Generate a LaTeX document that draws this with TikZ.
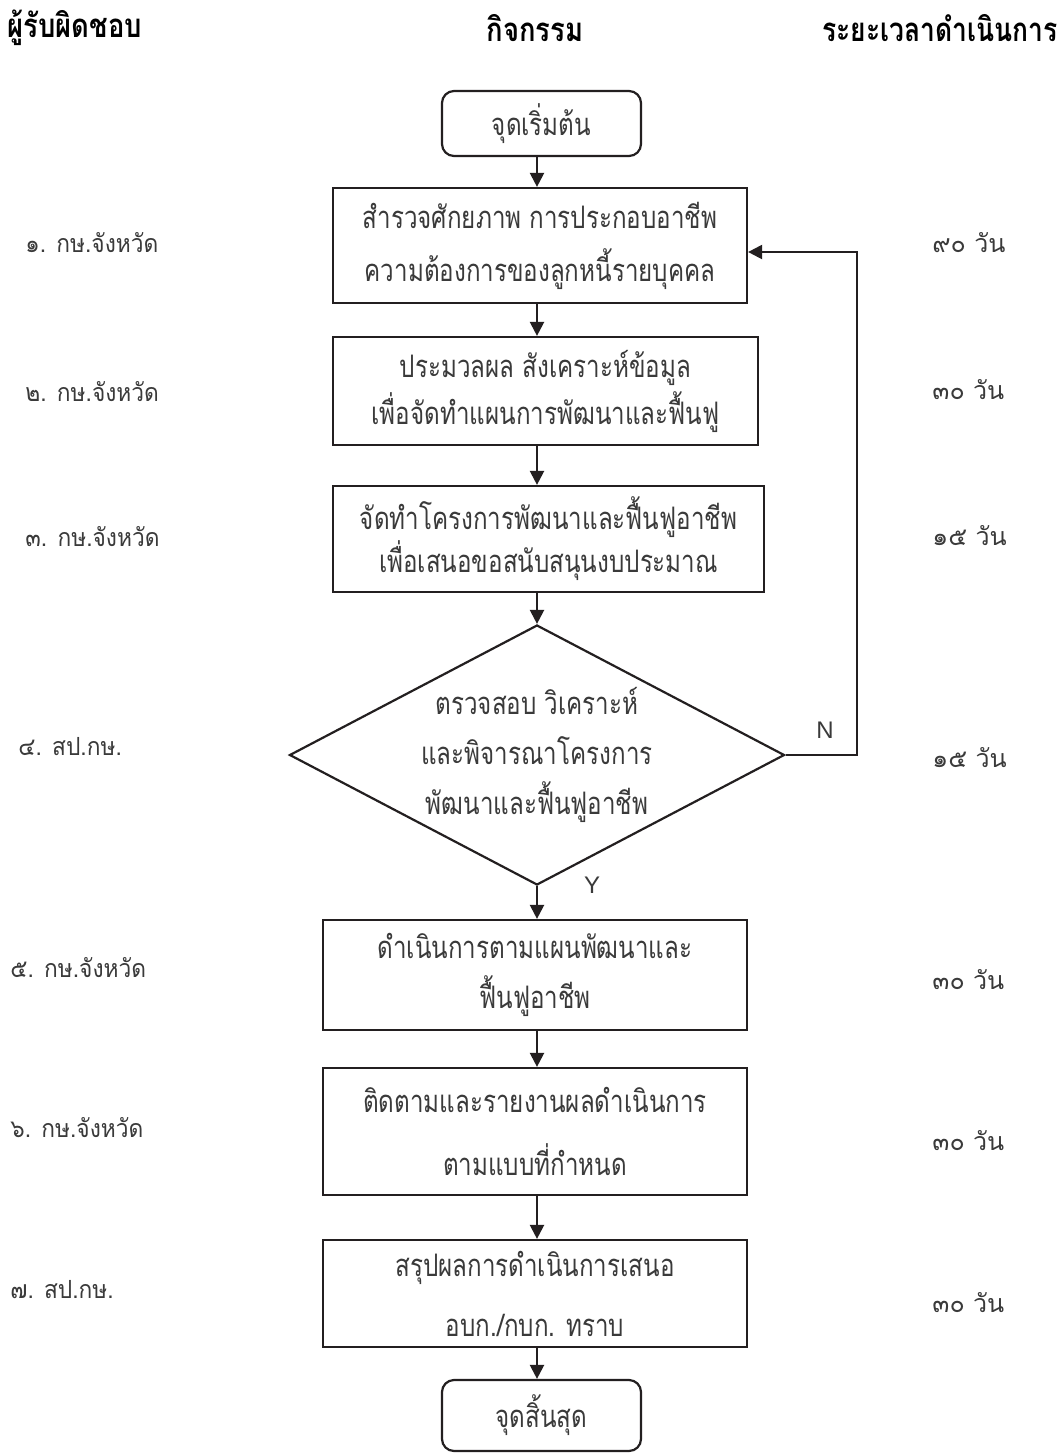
\documentclass[tikz,border=0pt]{standalone}
\usepackage{fontspec}
\usetikzlibrary{shapes.geometric,arrows.meta}
\setsansfont{Liberation Sans}
\newfontfamily\thaibox[Script=Thai,FakeStretch=0.78]{Loma}
\newfontfamily\thaihead[Script=Thai,FakeStretch=0.83]{Loma}
\newfontfamily\thaiheadn[Script=Thai,FakeStretch=0.80]{Loma}
\newfontfamily\thaiside[Script=Thai,FakeStretch=0.91]{Loma}
\newfontfamily\thaidur[Script=Thai]{Loma}
\definecolor{ink}{HTML}{3A3A3A}
\definecolor{linec}{HTML}{231F20}
\begin{document}
\begin{tikzpicture}[x=0.5pt,y=-0.5pt,
  box/.style={draw=linec, line width=1.1pt, inner sep=0pt, align=center, text=ink},
  bs/.style={font=\thaibox\fontsize{15.5}{#1}\selectfont},
  term/.style={box, rounded corners=6pt, minimum width=99.5pt, font=\thaibox\fontsize{15.5}{18}\selectfont},
  dec/.style={draw=linec, line width=1.1pt, diamond, aspect=1.9, inner sep=0pt, align=center, text=ink, minimum width=247.5pt, minimum height=130pt},
  head/.style={font=\thaihead\bfseries\fontsize{16.5}{18}\selectfont, text=black, inner sep=0pt},
  side/.style={font=\thaiside\fontsize{12.5}{16}\selectfont, text=ink, inner sep=0pt, anchor=west},
  dur/.style={font=\thaidur\fontsize{12.5}{16}\selectfont, text=ink, inner sep=0pt, anchor=west},
  yn/.style={font=\sffamily\fontsize{12}{14}\selectfont, text=ink, inner sep=0pt},
  arr/.style={draw=linec, line width=1.1pt, -{Triangle[width=7pt,length=7pt]}}
]
\useasboundingbox[fill=white] (0,0) rectangle (1059,1453);

% headers
\node[head] (h1) at (75,28) {ผู้รับผิดชอบ};
\node[head] (h2) at (535,28) {กิจกรรม};
\node[head, font=\thaiheadn\bfseries\fontsize{16.5}{18}\selectfont] (h3) at (940,28) {ระยะเวลาดำเนินการ};

% flow nodes
\node[term, minimum height=32.5pt] (start) at (541.5,123.5) {จุดเริ่มต้น};
\node[box, bs=26.5pt, minimum width=207pt, minimum height=57.5pt] (b1) at (540,245.5)
  {สำรวจศักยภาพ การประกอบอาชีพ\\ความต้องการของลูกหนี้รายบุคคล};
\node[box, bs=23.5pt, minimum width=212.5pt, minimum height=54pt] (b2) at (545.5,391)
  {ประมวลผล สังเคราะห์ข้อมูล\\เพื่อจัดทำแผนการพัฒนาและฟื้นฟู};
\node[box, bs=21.5pt, minimum width=215.5pt, minimum height=53pt] (b3) at (548.5,539)
  {จัดทำโครงการพัฒนาและฟื้นฟูอาชีพ\\เพื่อเสนอขอสนับสนุนงบประมาณ};
\node[dec, bs=25pt] (dia) at (537,755)
  {ตรวจสอบ วิเคราะห์\\และพิจารณาโครงการ\\พัฒนาและฟื้นฟูอาชีพ};
\node[box, bs=25pt, minimum width=212pt, minimum height=55pt] (b5) at (535,975)
  {ดำเนินการตามแผนพัฒนาและ\\ฟื้นฟูอาชีพ};
\node[box, bs=31.5pt, minimum width=212pt, minimum height=63.5pt] (b6) at (535,1131.5)
  {ติดตามและรายงานผลดำเนินการ\\ตามแบบที่กำหนด};
\node[box, bs=30pt, minimum width=212pt, minimum height=53.5pt] (b7) at (535,1293.5)
  {สรุปผลการดำเนินการเสนอ\\อบก./กบก. ทราบ};
\node[term, minimum height=35.5pt] (end) at (541.5,1415.5) {จุดสิ้นสุด};

% connectors
\coordinate (axis) at (537,0);
\draw[arr] (start.south -| axis) -- (b1.north -| axis);
\draw[arr] (b1.south -| axis) -- (b2.north -| axis);
\draw[arr] (b2.south -| axis) -- (b3.north -| axis);
\draw[arr] (b3.south -| axis) -- (dia.north);
\draw[arr] (dia.south) -- (b5.north -| axis);
\draw[arr] (b5.south -| axis) -- (b6.north -| axis);
\draw[arr] (b6.south -| axis) -- (b7.north -| axis);
\draw[arr] (b7.south -| axis) -- (end.north -| axis);
\coordinate (loopc) at (857,252);
\draw[arr] (dia.east) -| (loopc) -- (b1.east |- loopc);

\node[yn] (nlab) at (825,730) {N};
\node[yn] (ylab) at (592,885) {Y};

% responsible
\node[side] (r1) at (25,243) {๑. กษ.จังหวัด};
\node[side] (r2) at (25,392) {๒. กษ.จังหวัด};
\node[side] (r3) at (25,537) {๓. กษ.จังหวัด};
\node[side] (r4) at (18,747) {๔. สป.กษ.};
\node[side] (r5) at (10,968) {๕. กษ.จังหวัด};
\node[side] (r6) at (10,1128) {๖. กษ.จังหวัด};
\node[side] (r7) at (10,1290) {๗. สป.กษ.};

% durations
\node[dur] (t1) at (932,243) {๙๐ วัน};
\node[dur] (t2) at (932,390) {๓๐ วัน};
\node[dur] (t3) at (932,536) {๑๕ วัน};
\node[dur] (t4) at (932,758) {๑๕ วัน};
\node[dur] (t5) at (932,980) {๓๐ วัน};
\node[dur] (t6) at (932,1141) {๓๐ วัน};
\node[dur] (t7) at (932,1303) {๓๐ วัน};
\end{tikzpicture}
\end{document}
